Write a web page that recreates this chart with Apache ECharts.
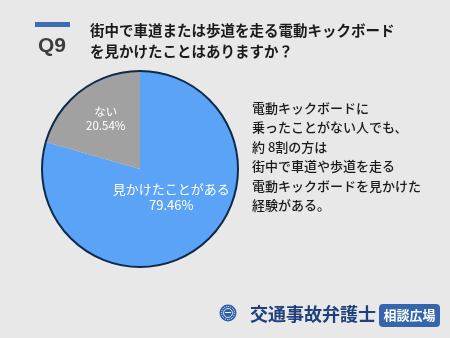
<!DOCTYPE html>
<html><head><meta charset="utf-8">
<script src="https://cdn.jsdelivr.net/npm/echarts@6/dist/echarts.min.js"></script>
<style>html,body{margin:0;padding:0;background:#e8e8e8;}#c{width:450px;height:338px;}</style>
</head><body><div id="c"></div>
<script>
const categories = ['見かけたことがある', 'ない'];
const values = [79.46, 20.54];
const titleLines = ['街中で車道または歩道を走る電動キックボード', 'を見かけたことはありますか？'];
const noteLines = ['電動キックボードに', '乗ったことがない人でも、', '約 8割の方は', '街中で車道や歩道を走る', '電動キックボードを見かけた', '経験がある。'];
const questionNo = 'Q9';
const brandName = '交通事故弁護士';
const brandTag = '相談広場';

const FONT = '"Noto Sans CJK JP", "Noto Sans", sans-serif';
const colors = ['#5ba3f7', '#a1a1a1'];
const labelOffsets = [[0, -13], [-3, -9]];
const labelSizes = [13, 11.5];

const chart = echarts.init(document.getElementById('c'));
const graphics = [
  {type:'rect', shape:{x:35, y:22, width:35, height:5}, style:{fill:'#3d6db3'}},
  {type:'text', style:{text:questionNo, x:52, y:46, fill:'#3d3d3d', font:'bold 21px "Liberation Sans", Arial, sans-serif', textAlign:'center', textVerticalAlign:'middle'}},
  {type:'circle', shape:{cx:140, cy:169, r:98}, style:{fill:'none', stroke:'#0d2a4a', lineWidth:2}, z:10},
  // logo emblem
  {type:'circle', shape:{cx:228, cy:313, r:8.5}, style:{fill:'#2f5fa8'}},
  {type:'circle', shape:{cx:228, cy:313, r:6.5}, style:{fill:'none', stroke:'#ffffff', lineWidth:1, lineDash:[1,1]}},
  {type:'circle', shape:{cx:228, cy:313, r:4.5}, style:{fill:'#2f5fa8', stroke:'#ffffff', lineWidth:0.8}},
  {type:'rect', shape:{x:225, y:312, width:6, height:1}, style:{fill:'#ffffff'}},
  {type:'text', style:{text:brandName, x:250, y:314, fill:'#1f3f7d', font:'bold 18px ' + FONT, textVerticalAlign:'middle'}},
  {type:'rect', shape:{x:379, y:304, width:61, height:23, r:4}, style:{fill:'#3566ad'}},
  {type:'text', style:{text:brandTag, x:409.5, y:315.5, fill:'#ffffff', font:'bold 13px ' + FONT, textAlign:'center', textVerticalAlign:'middle'}}
];
titleLines.forEach((t, i) => graphics.push({type:'text', style:{text:t, x:90, y:30 + i*21, fill:'#1a1a1a', font:'bold 14.5px ' + FONT, textVerticalAlign:'middle'}}));
noteLines.forEach((t, i) => graphics.push({type:'text', style:{text:t, x:252, y:108 + i*19.4, fill:'#1a1a1a', font:'500 13px ' + FONT, textVerticalAlign:'middle'}}));

chart.setOption({
  backgroundColor:'#e8e8e8',
  animation:false,
  series:[{
    type:'pie', center:[140,169], radius:[0,98], startAngle:90, clockwise:true,
    labelLine:{show:false},
    data: categories.map((c, i) => ({
      name:c, value:values[i],
      itemStyle:{color:colors[i]},
      label:{show:true, position:'inside', offset:labelOffsets[i], color:'#ffffff', fontSize:labelSizes[i], fontFamily:FONT, lineHeight:labelSizes[i]+3,
        formatter: p => p.name + '\n' + p.value.toFixed(2) + '%'}
    }))
  }],
  graphic: graphics
});
</script></body></html>
